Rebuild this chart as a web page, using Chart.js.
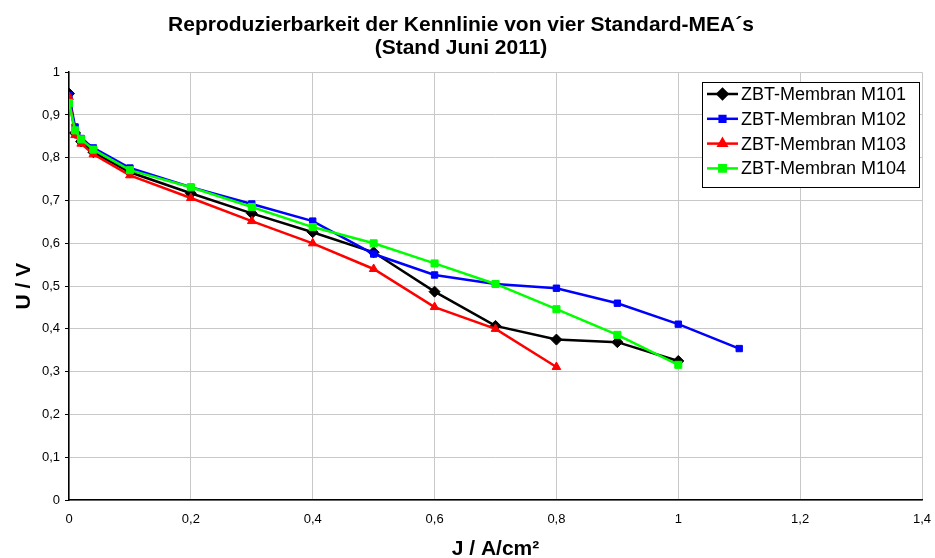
<!DOCTYPE html>
<html><head><meta charset="utf-8">
<script src="https://cdn.jsdelivr.net/npm/chart.js@4.4.1/dist/chart.umd.min.js"></script>
<style>html,body{margin:0;padding:0;background:#fff}#wrap{width:935px;height:558px}</style>
</head><body><div id="wrap"><canvas id="c" width="935" height="558"></canvas></div>
<script>
const seriesNames = ['ZBT-Membran M101','ZBT-Membran M102','ZBT-Membran M103','ZBT-Membran M104'];
const xM101 = [0,0.01,0.02,0.04,0.1,0.2,0.3,0.4,0.5,0.6,0.7,0.8,0.9,1.0];
const yM101 = [0.950,0.858,0.838,0.813,0.766,0.717,0.670,0.626,0.579,0.487,0.407,0.375,0.369,0.325];
const xM102 = [0,0.01,0.02,0.04,0.1,0.2,0.3,0.4,0.5,0.6,0.7,0.8,0.9,1.0,1.1];
const yM102 = [0.946,0.872,0.845,0.823,0.776,0.731,0.692,0.652,0.575,0.526,0.505,0.495,0.460,0.411,0.354];
const xM103 = [0,0.01,0.02,0.04,0.1,0.2,0.3,0.4,0.5,0.6,0.7,0.8];
const yM103 = [0.942,0.853,0.833,0.808,0.759,0.706,0.652,0.600,0.540,0.451,0.400,0.311];
const xM104 = [0,0.01,0.02,0.04,0.1,0.2,0.3,0.4,0.5,0.6,0.7,0.8,0.9,1.0];
const yM104 = [0.928,0.864,0.843,0.819,0.771,0.731,0.685,0.638,0.600,0.553,0.505,0.446,0.386,0.316];
const xTicks = [0,0.2,0.4,0.6,0.8,1,1.2,1.4];
const yTicks = [0,0.1,0.2,0.3,0.4,0.5,0.6,0.7,0.8,0.9,1];

const colors = ['#000000','#0000ff','#ff0000','#00ff00'];
const styles = ['rectRot','rect','triangle','rect'];
const radii = [5.5,4.5,5,5];
const xs = [xM101,xM102,xM103,xM104];
const ys = [yM101,yM102,yM103,yM104];
const FONT = "'Liberation Sans', Arial, sans-serif";
const fmt = v => String(Math.round(v*10)/10).replace('.', ',');

const datasets = seriesNames.map((n,i)=>({
  label:n,
  data: xs[i].map((x,j)=>({x:x,y:ys[i][j]})),
  borderColor: colors[i], backgroundColor: colors[i],
  borderWidth: 2.5, pointStyle: styles[i], pointRadius: radii[i],
  pointBorderWidth: 1, pointBorderColor: colors[i],
  showLine:true, tension:0, order: 3-i
}));

const legendBox = {
  id:'legendBox',
  afterDatasetsDraw(chart){
    const ctx = chart.ctx;
    const x0=702,y0=82,w=217,h=105;
    ctx.save();
    ctx.fillStyle='#fff'; ctx.fillRect(x0,y0,w,h);
    ctx.strokeStyle='#000'; ctx.lineWidth=1; ctx.strokeRect(x0+0.5,y0+0.5,w,h);
    seriesNames.forEach((n,i)=>{
      const yy = 94 + i*24.8;
      ctx.strokeStyle=colors[i]; ctx.lineWidth=2.5;
      ctx.beginPath(); ctx.moveTo(707,yy); ctx.lineTo(738,yy); ctx.stroke();
      ctx.fillStyle=colors[i];
      Chart.helpers.drawPoint(ctx,{pointStyle:styles[i],radius:radii[i]-0.5,borderWidth:1,rotation:0},722.5,yy);
      ctx.fillStyle='#000'; ctx.font="18px "+FONT; ctx.textBaseline='middle'; ctx.textAlign='left';
      ctx.fillText(n,741,yy+1);
    });
    ctx.restore();
  }
};

new Chart(document.getElementById('c'),{
  type:'scatter',
  data:{datasets},
  options:{
    responsive:false, animation:false, devicePixelRatio:1,
    layout:{padding:{left:0,right:13,top:0,bottom:0}},
    plugins:{
      legend:{display:false}, tooltip:{enabled:false},
      title:{display:true, text:['Reproduzierbarkeit der Kennlinie von vier Standard-MEA´s','(Stand Juni 2011)'],
        color:'#000', font:{family:FONT,size:21,weight:'bold',lineHeight:1.1}, padding:{top:14,bottom:12}}
    },
    scales:{
      x:{type:'linear',min:0,max:1.4,
        afterBuildTicks:s=>{s.ticks=xTicks.map(v=>({value:v}));},
        afterFit:s=>{s.height=58; s.paddingRight=0; s.paddingLeft=0;},
        grid:{color:'#c8c8c8',lineWidth:1,drawTicks:false},
        border:{color:'#000',width:1.5},
        ticks:{color:'#000',font:{family:FONT,size:13},padding:12,callback:v=>fmt(v),maxRotation:0},
        title:{display:true,text:'J / A/cm²',color:'#000',font:{family:FONT,size:21,weight:'bold',lineHeight:1},padding:{top:6,bottom:-2}}
      },
      y:{type:'linear',min:0,max:1,
        afterBuildTicks:s=>{s.ticks=yTicks.map(v=>({value:v}));},
        afterFit:s=>{s.width=69; s.paddingTop=0; s.paddingBottom=0;},
        grid:{color:'#c8c8c8',lineWidth:1,drawTicks:true,tickLength:4,tickColor:'#000'},
        border:{color:'#000',width:1.5},
        ticks:{color:'#000',font:{family:FONT,size:13},padding:5,callback:v=>fmt(v)},
        title:{display:true,text:'U / V',color:'#000',font:{family:FONT,size:21,weight:'bold',lineHeight:1},padding:{top:14,bottom:8}}
      }
    }
  },
  plugins:[legendBox]
});
</script></body></html>
